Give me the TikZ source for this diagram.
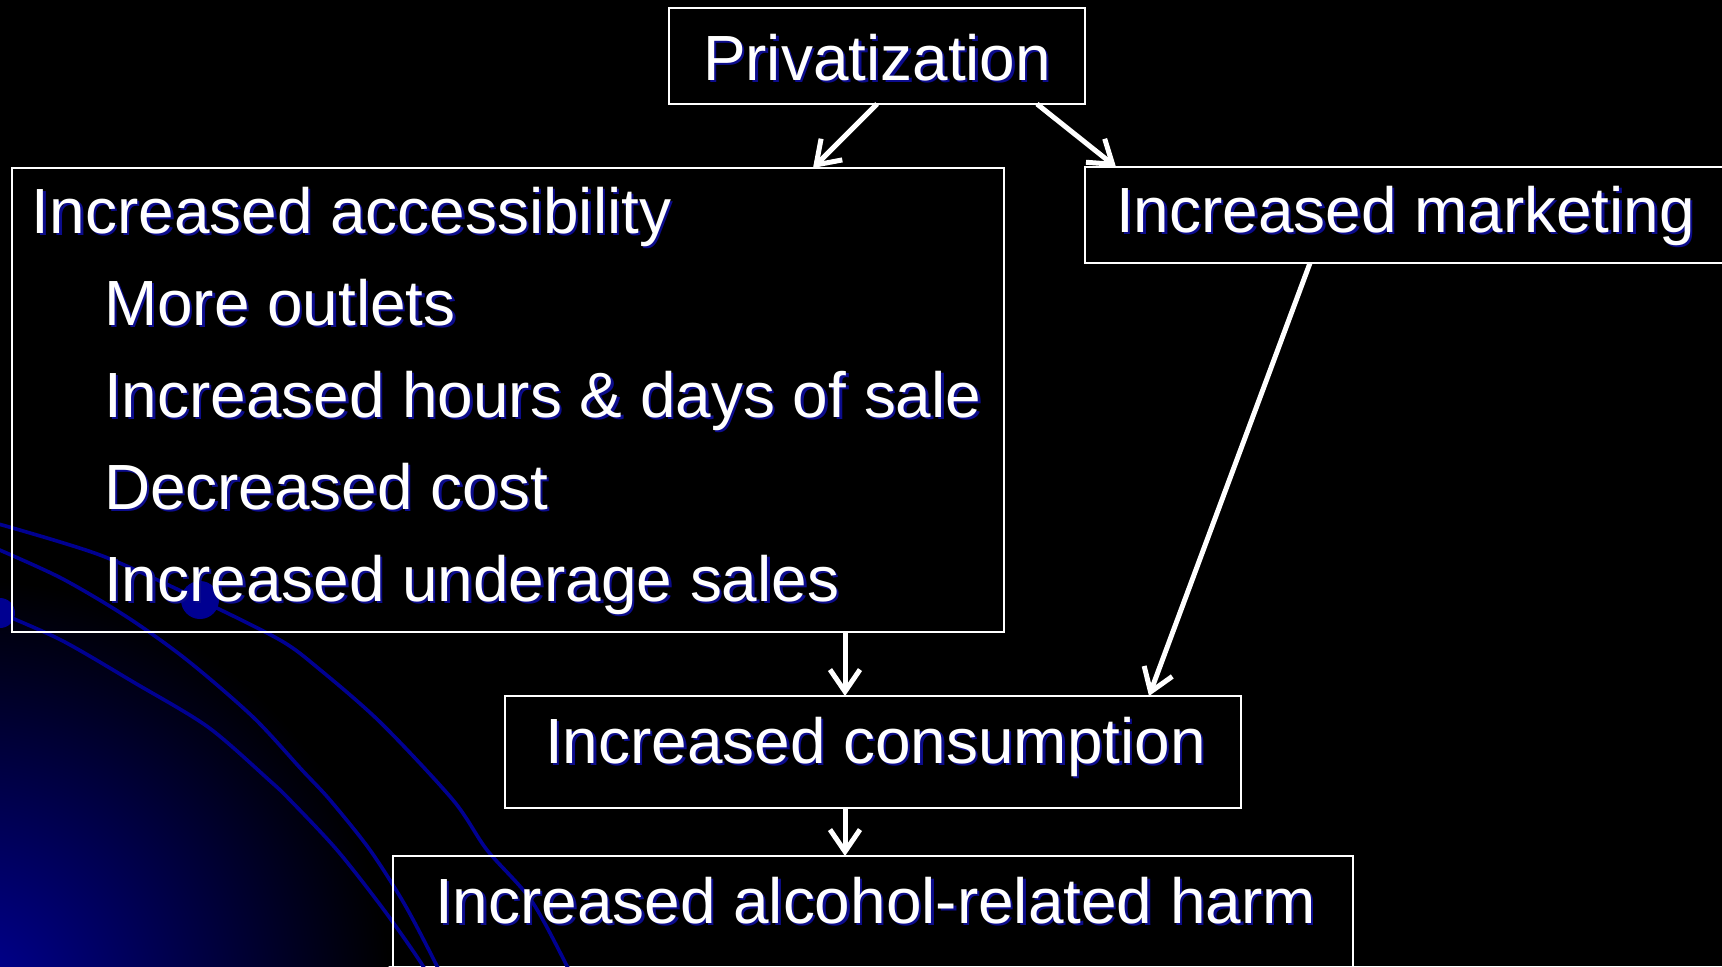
\documentclass[tikz,border=0pt]{standalone}
\usepackage{fontspec}
\setmainfont{Liberation Sans}
\usetikzlibrary{arrows.meta,calc}
\definecolor{shadowblue}{RGB}{12,12,140}
\definecolor{swirlblue}{RGB}{0,0,145}
\definecolor{cornerblue}{RGB}{0,0,150}
% white text with a dark blue drop shadow
\newcommand\shd[1]{\makebox[0pt][l]{\hspace*{1.25pt}\raisebox{-1.25pt}{\color{shadowblue}#1}}#1}

\begin{document}
\begin{tikzpicture}[x=0.5pt,y=-0.5pt,
  box/.style={draw=white,line width=1pt,inner sep=0pt,outer sep=0pt},
  lbl/.style={text=white,inner sep=0pt,outer sep=0pt,anchor=base west,
              font=\fontsize{31.95pt}{38pt}\selectfont},
  flow/.style={draw=white,line width=2.5pt,-{Straight Barb[length=11pt,width=15pt]}},
  swirl/.style={draw=swirlblue,line width=1.8pt}]

\useasboundingbox (0,0) rectangle (1722,966);
\clip (0,0) rectangle (1722,966);

% background: black with a blue glow in the lower left corner
\fill[black] (0,0) rectangle (1722,966);
\shade[inner color=cornerblue,outer color=black] (-30,1000) circle (420);

% decorative swirl lines
\draw[swirl] plot[smooth] coordinates {(-5,523) (100,555) (200,600) (280,640) (318,668) (380,722) (453,800) (487,850) (531,900) (567,966) (575,985)};
\draw[swirl] plot[smooth] coordinates {(-5,548) (61,578) (127,617) (187,660) (253,717) (302,770) (330,800) (370,850) (405,905) (437,966) (445,985)};
\draw[swirl] plot[smooth] coordinates {(-5,611) (61,640) (135,683) (208,727) (269,780) (290,800) (337,850) (384,910) (423,966) (430,985)};
\fill[swirlblue] (200,600) circle (19);
\fill[swirlblue] (0,613) circle (15);

% boxes
\node[box,minimum width=208pt,minimum height=48pt] (priv) at (877,56) {};
\node[box,minimum width=496pt,minimum height=232pt] (acc) at (508,400) {};
\node[box,minimum width=327.5pt,minimum height=48pt] (mkt) at (1412.5,215) {};
\node[box,minimum width=368pt,minimum height=56pt] (cons) at (873,752) {};
\node[box,minimum width=480pt,minimum height=67pt] (harm) at (873,923) {};

% texts
\node[lbl] (privT) at (703,80) {\shd{Privatization}};
\node[lbl] (accT) at (32,233) {\shd{Increased accessibility}};
\node[lbl] (acc1) at (104,325) {\shd{More outlets}};
\node[lbl] (acc2) at (104,417) {\shd{Increased hours \& days of sale}};
\node[lbl] (acc3) at (104,509) {\shd{Decreased cost}};
\node[lbl] (acc4) at (104,601) {\shd{Increased underage sales}};
\node[lbl] (mktT) at (1116,232) {\shd{Increased marketing}};
\node[lbl] (consT) at (545,763) {\shd{Increased consumption}};
\node[lbl] (harmT) at (435,923) {\shd{Increased alcohol-related harm}};

% connectors
\draw[flow] (priv.south) -- ([xshift=152.5pt]acc.north);
\draw[flow] ([xshift=-24pt]priv.south east) -- ([xshift=15.5pt]mkt.north west);
\draw[flow] ([xshift=112.5pt]mkt.south west) -- ([xshift=-46pt]cons.north east);
\draw[flow] ([xshift=-79.5pt]acc.south east) -- ([xshift=170pt]cons.north west);
\draw[flow] ([xshift=-14pt]cons.south) -- ([xshift=-14pt]harm.north);
\end{tikzpicture}
\end{document}
